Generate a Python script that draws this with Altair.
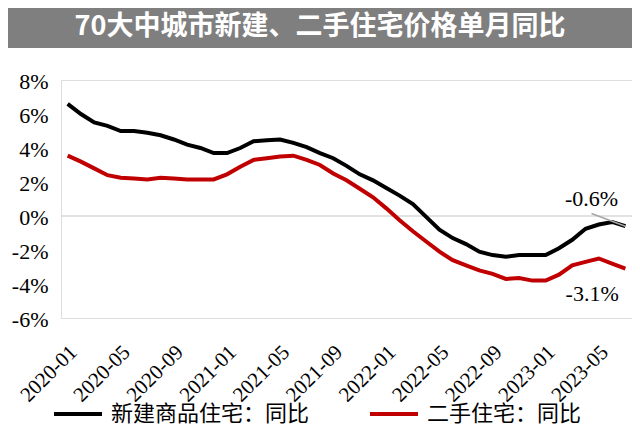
import altair as alt
import pandas as pd

title_text = "70大中城市新建、二手住宅价格单月同比"
series_names = ["新建商品住宅：同比", "二手住宅：同比"]
series_colors = ["#000000", "#c00000"]

months = [f"{y}-{m:02d}" for y in range(2020, 2024) for m in range(1, 13)][:43]

new_home = [6.6, 6.0, 5.5, 5.3, 5.0, 5.0, 4.9, 4.75, 4.5, 4.2, 4.0, 3.7,
            3.7, 4.0, 4.4, 4.45, 4.5, 4.3, 4.05, 3.7, 3.4, 2.95, 2.45, 2.1,
            1.65, 1.2, 0.7, -0.05, -0.8, -1.3, -1.65, -2.1, -2.3, -2.4, -2.3, -2.3,
            -2.3, -1.9, -1.4, -0.75, -0.5, -0.35, -0.6]
second_hand = [3.55, 3.2, 2.8, 2.4, 2.25, 2.2, 2.15, 2.25, 2.2, 2.15, 2.15, 2.15,
               2.45, 2.9, 3.3, 3.4, 3.5, 3.55, 3.3, 3.0, 2.5, 2.1, 1.6, 1.1,
               0.45, -0.25, -0.9, -1.5, -2.1, -2.6, -2.9, -3.2, -3.4, -3.7, -3.65, -3.8,
               -3.8, -3.45, -2.9, -2.7, -2.5, -2.8, -3.1]

tick_idx = list(range(0, 43, 4))
y_ticks = list(range(-6, 9, 2))

# annotation positions (index, value)
ann_k = [39.45, 39.5]
ann_v = [1.0, -4.56]
ann_text = ["-0.6%", "-3.1%"]
leader = {"k": [39.45], "value": [0.15], "k2": [42], "v2": [-0.6]}

n = len(months)
df = pd.DataFrame({
    "k": list(range(n)) * 2,
    "month": months * 2,
    "value": new_home + second_hand,
    "series": [series_names[0]] * n + [series_names[1]] * n,
})

W, H = 571, 238
SERIF = "Liberation Serif"
CJK = "Noto Sans CJK SC"

label_arr = "[" + ",".join(f"'{m}'" for m in months) + "]"

x_scale = alt.Scale(domain=[-0.5, n - 0.5], nice=False, zero=False)
y_scale = alt.Scale(domain=[-6, 8], nice=False, zero=False)
x_axis = alt.Axis(values=tick_idx, labelExpr=f"{label_arr}[datum.value]",
                  labelAngle=-45, labelFont=SERIF, labelFontSize=21,
                  labelColor="#000000", ticks=False, domain=False, grid=False,
                  labelOverlap=False, labelBound=False, labelFlush=False,
                  labelPadding=23, labelOffset=-2, title=None)
y_axis = alt.Axis(values=y_ticks, labelExpr="datum.value + '%'",
                  labelFont=SERIF, labelFontSize=22, labelColor="#000000",
                  labelOverlap=False, labelBound=False, labelFlush=False,
                  ticks=False, domain=False, grid=False, labelPadding=13,
                  labelOffset=1, title=None)

zero = alt.Chart(pd.DataFrame({"value": [0]})).mark_rule(color="#d9d9d9", strokeWidth=1.5).encode(
    y=alt.Y("value:Q", scale=y_scale, axis=y_axis))

lines = alt.Chart(df).mark_line(strokeWidth=4).encode(
    x=alt.X("k:Q", scale=x_scale, axis=x_axis),
    y=alt.Y("value:Q", scale=y_scale, axis=y_axis),
    color=alt.Color("series:N",
                    scale=alt.Scale(domain=series_names, range=series_colors),
                    sort=series_names,
                    legend=alt.Legend(orient="none", legendX=-9, legendY=308,
                                      direction="horizontal", title=None,
                                      symbolType="stroke", symbolSize=2304,
                                      symbolStrokeWidth=4, labelFont=CJK,
                                      labelFontSize=22, labelColor="#000000",
                                      labelLimit=0, labelOffset=7,
                                      columnPadding=52, padding=0)),
    order="k:Q")

lead = alt.Chart(pd.DataFrame(leader)).mark_rule(color="#a6a6a6", strokeWidth=1.5).encode(
    x=alt.X("k:Q", scale=x_scale, axis=x_axis),
    y=alt.Y("value:Q", scale=y_scale, axis=y_axis),
    x2="k2:Q", y2="v2:Q")

ann = alt.Chart(pd.DataFrame({"k": ann_k, "value": ann_v, "t": ann_text})).mark_text(
    font=SERIF, fontSize=22, color="#000000", align="center", baseline="middle").encode(
    x=alt.X("k:Q", scale=x_scale, axis=x_axis),
    y=alt.Y("value:Q", scale=y_scale, axis=y_axis),
    text="t:N")

banner = alt.Chart(pd.DataFrame({"t": [title_text]})).mark_rect(color="#7f7f7f").encode(
    x=alt.value(-53), x2=alt.value(571), y=alt.value(-72), y2=alt.value(-32))
banner_text = alt.Chart(pd.DataFrame({"t": [title_text]})).mark_text(
    font=CJK, fontSize=27, fontWeight="bold", color="#ffffff",
    align="center", baseline="middle").encode(
    x=alt.value(259), y=alt.value(-53), text="t:N")

chart = alt.layer(banner, banner_text, zero, lines, lead, ann).properties(
    width=W, height=H,
    autosize=alt.AutoSizeParams(type="none"),
    padding={"left": 53, "top": 72, "right": 0, "bottom": 106},
).configure_view(strokeWidth=0).configure(background="#ffffff")

chart.save("out.html", embed_options={"renderer": "svg", "actions": False})
